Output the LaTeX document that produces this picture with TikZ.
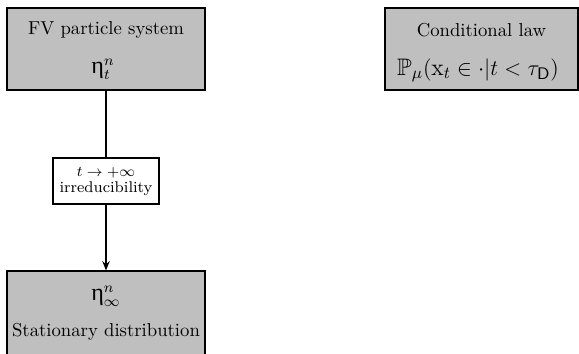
\documentclass[tikz,border=0pt]{standalone}
\usepackage{amssymb}
\usepackage{fontspec}
\newfontfamily\grk{Liberation Serif}
\usetikzlibrary{arrows.meta}
\tikzset{
  graybox/.style={draw=black, line width=1.1pt, fill=gray!50, inner sep=0pt,
    minimum width=106.4pt, minimum height=44.3pt},
  midbox/.style={draw=black, line width=1pt, fill=white, inner sep=0pt,
    minimum width=57pt, minimum height=24.8pt},
  txt/.style={inner sep=0pt, font=\fontsize{10.1}{12}\selectfont},
  etatxt/.style={inner sep=0pt, font=\fontsize{11.5}{13}\selectfont},
  conn/.style={line width=0.8pt},
}
\newcommand{\myeta}{\mbox{\grk\fontsize{13}{15}\selectfont η}}
\begin{document}
\begin{tikzpicture}[x=0.54pt, y=-0.54pt]
\path[use as bounding box] (0,0) rectangle (579,353);
\clip (0,0) rectangle (579,353);
% top-left box
\node[graybox] (fv) at (106,49) {};
\node[txt] (fvt) at (106,30) {FV particle system};
\node[etatxt] (fve) at (103,69) {$\myeta^{n}_{t}$};
% right box
\node[graybox, minimum width=104.2pt] (cl) at (481.5,49) {};
\node[txt] (clt) at (481.5,30) {Conditional law};
\node[txt, font=\fontsize{12.9}{15}\selectfont] (clm) at (478,70) {$\mathbb{P}_{\mu}(\mathrm{x}_t\in\cdot|t<\tau_{\mathsf{D}})$};
% middle box
\node[midbox] (mid) at (106,181) {};
\node[inner sep=0pt, font=\fontsize{8.4}{10}\selectfont] (mida) at (106,173) {$t\rightarrow+\infty$};
\node[inner sep=0pt, font=\fontsize{8.4}{10}\selectfont] (midb) at (106,188.5) {irreducibility};
% bottom box
\node[graybox, minimum height=60pt] (st) at (106,327) {};
\node[etatxt] (ste) at (106,296) {$\myeta^{n}_{\infty}$};
\node[txt] (stt) at (106,332) {Stationary distribution};
% connectors
\draw[conn] (fv.south) -- (mid.north);
\draw[conn, -{Stealth[length=5pt,width=4pt]}] (mid.south) -- (st.north);
\end{tikzpicture}
\end{document}
